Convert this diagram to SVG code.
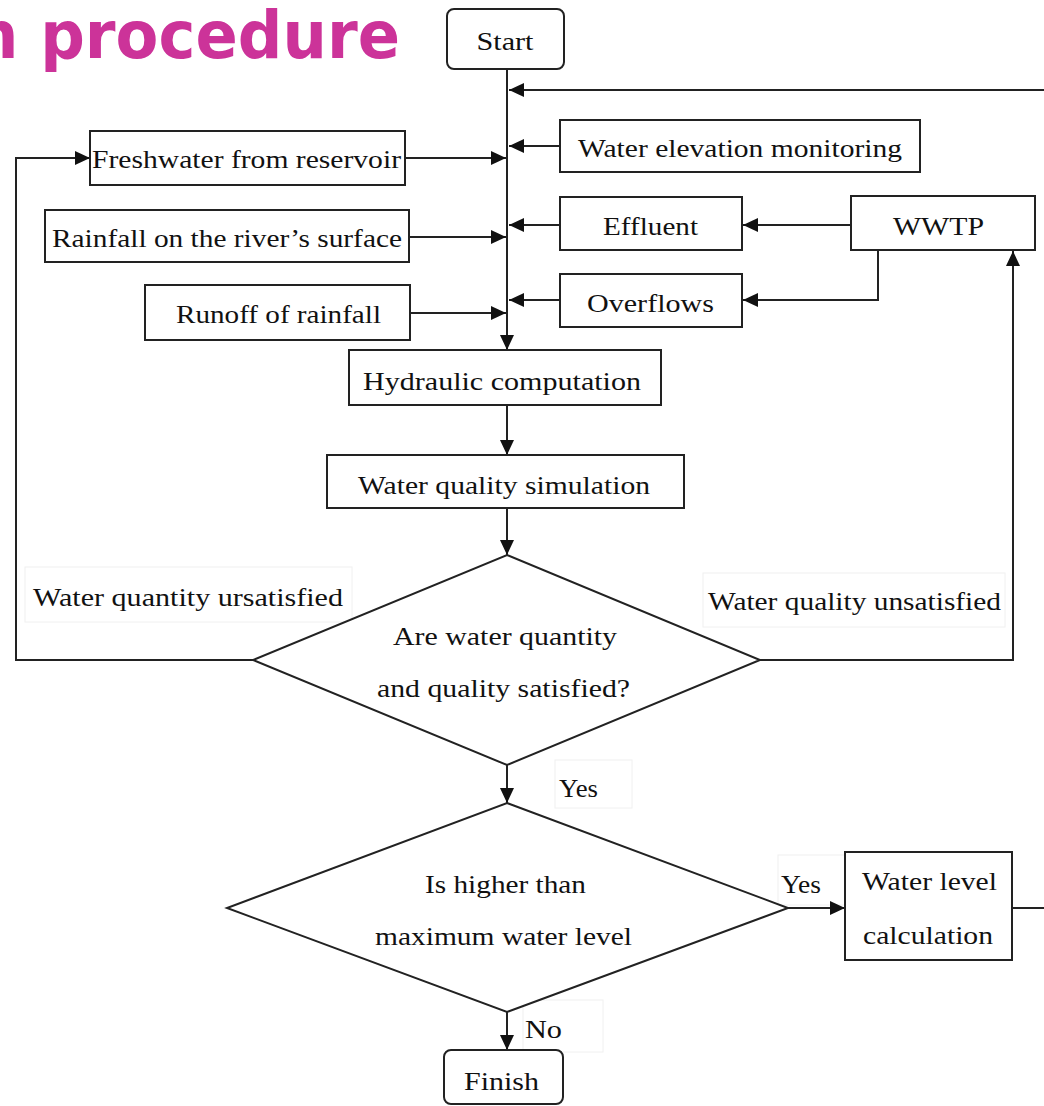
<svg xmlns="http://www.w3.org/2000/svg" width="1044" height="1106" viewBox="0 0 1044 1106">
<style>
.box{fill:#fff;stroke:#222;stroke-width:2}
.lbl{fill:#fff;stroke:#f0f0f0;stroke-width:1}
.t{font-family:"Liberation Serif","Times New Roman",serif;font-size:26px;fill:#111}
.c{stroke:#222;stroke-width:2;fill:none;marker-end:url(#ah)}
.n{stroke:#222;stroke-width:2;fill:none}
.title{font-family:"DejaVu Sans",sans-serif;font-weight:bold;font-size:66px;fill:#cc3399}
</style>
<defs>
<marker id="ah" markerUnits="userSpaceOnUse" markerWidth="16" markerHeight="14" refX="15" refY="7" orient="auto">
<path d="M0,0 L15,7 L0,14 z" fill="#111"/>
</marker>
</defs>
<rect width="1044" height="1106" fill="#fff"/>
<text class="title" x="-26" y="58" textLength="426" lengthAdjust="spacingAndGlyphs">n procedure</text>

<g id="label-quantity"><rect class="lbl" x="25" y="567" width="327" height="55"/><text class="t" x="33" y="606" textLength="310" lengthAdjust="spacingAndGlyphs">Water quantity ursatisfied</text></g>
<g id="label-quality"><rect class="lbl" x="703" y="573" width="302" height="54"/><text class="t" x="708" y="610" textLength="293" lengthAdjust="spacingAndGlyphs">Water quality unsatisfied</text></g>
<g id="label-yes1"><rect class="lbl" x="555" y="760" width="77" height="48"/><text class="t" x="559" y="797" textLength="39" lengthAdjust="spacingAndGlyphs">Yes</text></g>
<g id="label-yes2"><rect class="lbl" x="778" y="855" width="67" height="50"/><text class="t" x="781" y="893" textLength="40" lengthAdjust="spacingAndGlyphs">Yes</text></g>
<g id="label-no"><rect class="lbl" x="523" y="1000" width="80" height="52"/><text class="t" x="525" y="1038" textLength="37" lengthAdjust="spacingAndGlyphs">No</text></g>

<g id="connectors">
<path class="c" d="M507,69 V350"/>
<path class="c" d="M1044,90 H509"/>
<path class="c" d="M560,146 H509"/>
<path class="c" d="M405,158 H506"/>
<path class="c" d="M560,225 H509"/>
<path class="c" d="M851,225 H743"/>
<path class="c" d="M409,237 H506"/>
<path class="c" d="M560,300 H509"/>
<path class="c" d="M878,250 V300 H743"/>
<path class="c" d="M410,313 H506"/>
<path class="c" d="M507,405 V455"/>
<path class="c" d="M507,508 V555"/>
<path class="c" d="M253,660 H16 V158 H90"/>
<path class="c" d="M760,660 H1013 V251"/>
<path class="c" d="M507,765 V803"/>
<path class="c" d="M788,908 H845"/>
<path class="n" d="M1012,908 H1044"/>
<path class="c" d="M507,1012 V1050"/>
</g>

<g id="start"><rect class="box" x="447" y="9" width="117" height="60" rx="7"/><text class="t" x="505" y="50" text-anchor="middle" textLength="57" lengthAdjust="spacingAndGlyphs">Start</text></g>
<g id="wem"><rect class="box" x="560" y="120" width="360" height="52"/><text class="t" x="578" y="157" textLength="324" lengthAdjust="spacingAndGlyphs">Water elevation monitoring</text></g>
<g id="freshwater"><rect class="box" x="90" y="131" width="315" height="54"/><text class="t" x="92" y="168" textLength="309" lengthAdjust="spacingAndGlyphs">Freshwater from reservoir</text></g>
<g id="effluent"><rect class="box" x="560" y="197" width="182" height="53"/><text class="t" x="603" y="235" textLength="95" lengthAdjust="spacingAndGlyphs">Effluent</text></g>
<g id="wwtp"><rect class="box" x="851" y="196" width="184" height="54"/><text class="t" x="893" y="235" textLength="91" lengthAdjust="spacingAndGlyphs">WWTP</text></g>
<g id="rainfall"><rect class="box" x="45" y="210" width="364" height="52"/><text class="t" x="52" y="247" textLength="350" lengthAdjust="spacingAndGlyphs">Rainfall on the river’s surface</text></g>
<g id="overflows"><rect class="box" x="560" y="274" width="182" height="53"/><text class="t" x="587" y="312" textLength="127" lengthAdjust="spacingAndGlyphs">Overflows</text></g>
<g id="runoff"><rect class="box" x="145" y="285" width="265" height="55"/><text class="t" x="176" y="323" textLength="205" lengthAdjust="spacingAndGlyphs">Runoff of rainfall</text></g>
<g id="hydraulic"><rect class="box" x="349" y="350" width="312" height="55"/><text class="t" x="363" y="390" textLength="278" lengthAdjust="spacingAndGlyphs">Hydraulic computation</text></g>
<g id="wqs"><rect class="box" x="327" y="455" width="357" height="53"/><text class="t" x="358" y="494" textLength="292" lengthAdjust="spacingAndGlyphs">Water quality simulation</text></g>

<g id="decision1">
<polygon class="box" points="507,555 760,660 507,765 253,660"/>
<text class="t" x="393" y="645" textLength="224" lengthAdjust="spacingAndGlyphs">Are water quantity</text>
<text class="t" x="377" y="697" textLength="253" lengthAdjust="spacingAndGlyphs">and quality satisfied?</text>
</g>

<g id="decision2">
<polygon class="box" points="507,803 788,908 507,1012 227,908"/>
<text class="t" x="425" y="893" textLength="161" lengthAdjust="spacingAndGlyphs">Is higher than</text>
<text class="t" x="375" y="945" textLength="257" lengthAdjust="spacingAndGlyphs">maximum water level</text>
</g>
<g id="wlc"><rect class="box" x="845" y="852" width="167" height="108"/>
<text class="t" x="862" y="890" textLength="135" lengthAdjust="spacingAndGlyphs">Water level</text>
<text class="t" x="863" y="944" textLength="130" lengthAdjust="spacingAndGlyphs">calculation</text></g>
<g id="finish"><rect class="box" x="444" y="1050" width="119" height="54" rx="7"/><text class="t" x="464" y="1090" textLength="75" lengthAdjust="spacingAndGlyphs">Finish</text></g>
</svg>
